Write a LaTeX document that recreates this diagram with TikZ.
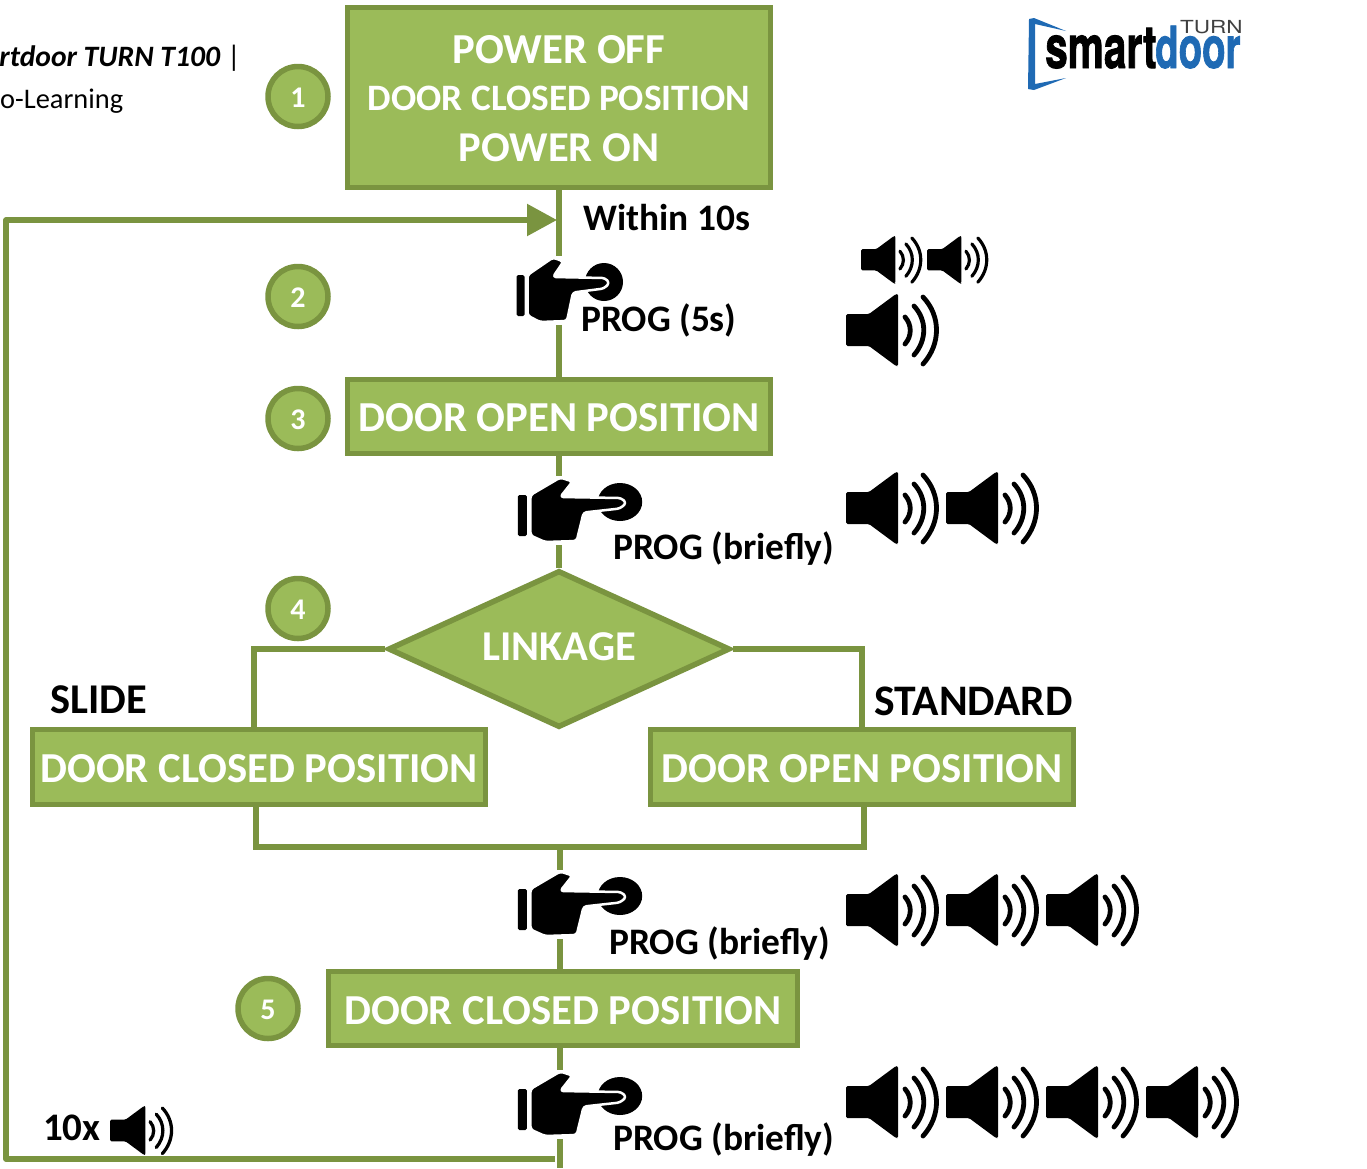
\documentclass[tikz,border=0pt]{standalone}
\usepackage{fontspec}
\setmainfont{Carlito}
\newfontfamily\logofont{TeX Gyre Heros}
\newfontfamily\logoheavy[FakeBold=1.6]{TeX Gyre Heros}
\usetikzlibrary{shapes.geometric,arrows.meta}
\definecolor{gfill}{HTML}{9BBB59}
\definecolor{gline}{HTML}{7A9440}
\definecolor{logoblue}{HTML}{1F6AB4}
\newcommand{\fsz}[1]{\fontsize{#1}{#1}\selectfont}
\newcommand{\dn}[2]{\raisebox{-#1pt}[\height][\depth]{#2}}
\newcommand{\spk}[3]{%
  \begin{scope}[shift={(#1,#2)},scale=#3]
    \pgfmathsetmacro{\lw}{4.8*#3}
    \fill[black,rounded corners=1.5] (0,20) -- (23,20) -- (50,0) -- (52,0) -- (52,72) -- (50,72) -- (23,52) -- (0,52) -- cycle;
    \draw[black,line width=\lw pt,line cap=round,fill=none] (59,23) .. controls (66,31) and (66,42) .. (59,50);
    \draw[black,line width=\lw pt,line cap=round,fill=none] (68,12) .. controls (81,26) and (81,46) .. (68,61);
    \draw[black,line width=\lw pt,line cap=round,fill=none] (77,3) .. controls (95,22) and (95,50) .. (77,70);
  \end{scope}}
\newcommand{\handicon}[3]{%
  \begin{scope}[shift={(#1,#2)},xscale=#3]
    \fill[white] (28,-2.5) rectangle (52,67);
    \fill[black] (88,24) circle (19);
    \fill[black,rounded corners=1.5] (.7,17) rectangle (8.5,58);
    \filldraw[black,draw=white,line width=2.5pt,rounded corners=3,line join=round]
      (11.5,17) -- (37,-.5) -- (47.5,3.5) -- (37,19) -- (89,20) -- (93.5,25) -- (88,30.5) -- (57,34.5) -- (51,63) -- (24,64) -- (11.5,57.5) -- cycle;
  \end{scope}}
\tikzset{
  x=1pt,y=-1pt,
  flowline/.style={draw=gline,line width=6pt},
  boxnode/.style={draw=gline,fill=gfill,line width=5.5pt,text=white,font=\bfseries\fsz{42.7},inner sep=0pt,align=center},
  numnode/.style={circle,draw=gline,fill=gfill,line width=5.5pt,text=white,font=\bfseries\fsz{30},minimum size=60pt,inner sep=0pt},
  caption/.style={text=black,font=\bfseries\fsz{37.4},inner sep=0pt},
}
\begin{document}
\begin{tikzpicture}
\useasboundingbox (0,0) rectangle (1367,1168);
% nodes
\node[boxnode,minimum width=423pt,minimum height=180pt] (box1) at (559,97.5) {};
\node[text=white,font=\bfseries\fsz{42.7},inner sep=0pt] (t1) at (559,50) {POWER OFF};
\node[text=white,font=\bfseries\fsz{37.3},inner sep=0pt] (t2) at (559,98.5) {DOOR CLOSED POSITION};
\node[text=white,font=\bfseries\fsz{42.5},inner sep=0pt] (t3) at (559,148) {POWER ON};
\node[boxnode,minimum width=423pt,minimum height=74pt] (box3) at (559,416.5) {\dn{1.5}{DOOR OPEN POSITION}};
\node[diamond,aspect=2.19,draw=gline,fill=gfill,line width=5.5pt,text=white,inner sep=0pt,minimum width=342pt,minimum height=157pt] (dia) at (559,649) {};
\node[text=white,font=\bfseries\fsz{42.5},inner sep=0pt] (diat) at (559,647) {LINKAGE};
\node[boxnode,minimum width=453pt,minimum height=75pt] (slide) at (259,767) {\dn{2}{DOOR CLOSED POSITION}};
\node[boxnode,minimum width=423pt,minimum height=75pt] (std) at (862,767) {\dn{2}{DOOR OPEN POSITION}};
\node[boxnode,minimum width=469pt,minimum height=74pt] (box5) at (563,1008.5) {\dn{2}{DOOR CLOSED POSITION}};
% free coordinates
\coordinate (mergeR) at (864,847);
\coordinate (mergeM) at (560,847);
\coordinate (slideTop) at (254,728);
\coordinate (stdTop) at (862,728);
\coordinate (slideBot) at (256,806);
\coordinate (stdBot) at (864,806);
\coordinate (box5top) at (560,970);
\coordinate (box5bot) at (560,1047);
\coordinate (pageEnd) at (560,1168);
\coordinate (loopStart) at (555,1159);
\coordinate (loopCornerA) at (6,1159);
\coordinate (loopCornerB) at (6,220);
\coordinate (loopEnd) at (557,220);
% connectors
\draw[flowline] (box1.south) -- (box3.north);
\draw[flowline] (box3.south) -- (dia.north);
\draw[flowline,line width=5.5pt] (dia.west) -| (slideTop);
\draw[flowline,line width=5.5pt] (dia.east) -| (stdTop);
\draw[flowline,line width=5.5pt] (slideBot) |- (mergeR) -- (stdBot);
\draw[flowline] (mergeM) -- (box5top);
\draw[flowline] (box5bot) -- (pageEnd);
\draw[flowline,line width=5.5pt,line join=round,-{Triangle[length=30pt,width=31pt,fill=gline]}] (loopStart) -- (loopCornerA) -- (loopCornerB) -- (loopEnd);
% number circles
\node[numnode] (n1) at (298,96.5) {\dn{1}{1}};
\node[numnode] (n2) at (298,296.5) {\dn{1}{2}};
\node[numnode] (n3) at (298,418.5) {\dn{1}{3}};
\node[numnode] (n4) at (298,608.5) {\dn{1}{4}};
\node[numnode] (n5) at (268,1008.5) {\dn{1}{5}};
% hands
\handicon{516}{258}{1}
\handicon{517}{478}{1.17}
\handicon{517}{872}{1.17}
\handicon{517}{1072}{1.17}
% speakers
\spk{861}{236}{.66}
\spk{927}{236}{.66}
\spk{846}{294}{1}
\spk{846}{472}{1}
\spk{946}{472}{1}
\spk{846}{874}{1}
\spk{946}{874}{1}
\spk{1046}{874}{1}
\spk{846}{1066}{1}
\spk{946}{1066}{1}
\spk{1046}{1066}{1}
\spk{1146}{1066}{1}
\spk{110}{1106}{.68}
% captions
\node[caption,anchor=west] (c1) at (583,218) {Within 10s};
\node[caption,anchor=west] (c2) at (581,320) {PROG (5s)};
\node[caption,anchor=west] (c3) at (613,548.5) {PROG (briefly)};
\node[caption,anchor=west,font=\bfseries\fsz{42.4}] (c4) at (50,699.5) {SLIDE};
\node[caption,anchor=west,font=\bfseries\fsz{43.6}] (c5) at (874,701.5) {STANDARD};
\node[caption,anchor=west] (c6) at (609,943.5) {PROG (briefly)};
\node[caption,anchor=west] (c7) at (613,1139.5) {PROG (briefly)};
\node[caption,anchor=west,font=\bfseries\fsz{39}] (c8) at (43,1128) {10x};
% header text
\node[anchor=east,inner sep=0pt,font=\fsz{29.6}] (h1) at (241,58.5) {\textbf{\textit{rtdoor TURN T100}} |};
\node[anchor=west,inner sep=0pt,font=\fsz{28.4}] (h2) at (0,101) {o-Learning};
% logo
\fill[logoblue] (1029,19) -- (1034,18) -- (1066,31) -- (1035,24) -- (1035,84) -- (1066,78) -- (1034,90) -- (1028,89) -- cycle;
\node[anchor=base west,inner sep=0pt,text=black] (lg1) at (1045,68) {\logoheavy\bfseries\fsz{35}\scalebox{1.16}[1.7]{smart}};
\node[anchor=base west,inner sep=0pt,text=logoblue] (lg2) at (1155,68) {\logoheavy\bfseries\fsz{40}\scalebox{.96}[1.45]{door}};
\node[anchor=base west,inner sep=0pt,text=black!75] (lg3) at (1180,33) {\logofont\fsz{18}\scalebox{1.25}[1]{TURN}};
\end{tikzpicture}
\end{document}
